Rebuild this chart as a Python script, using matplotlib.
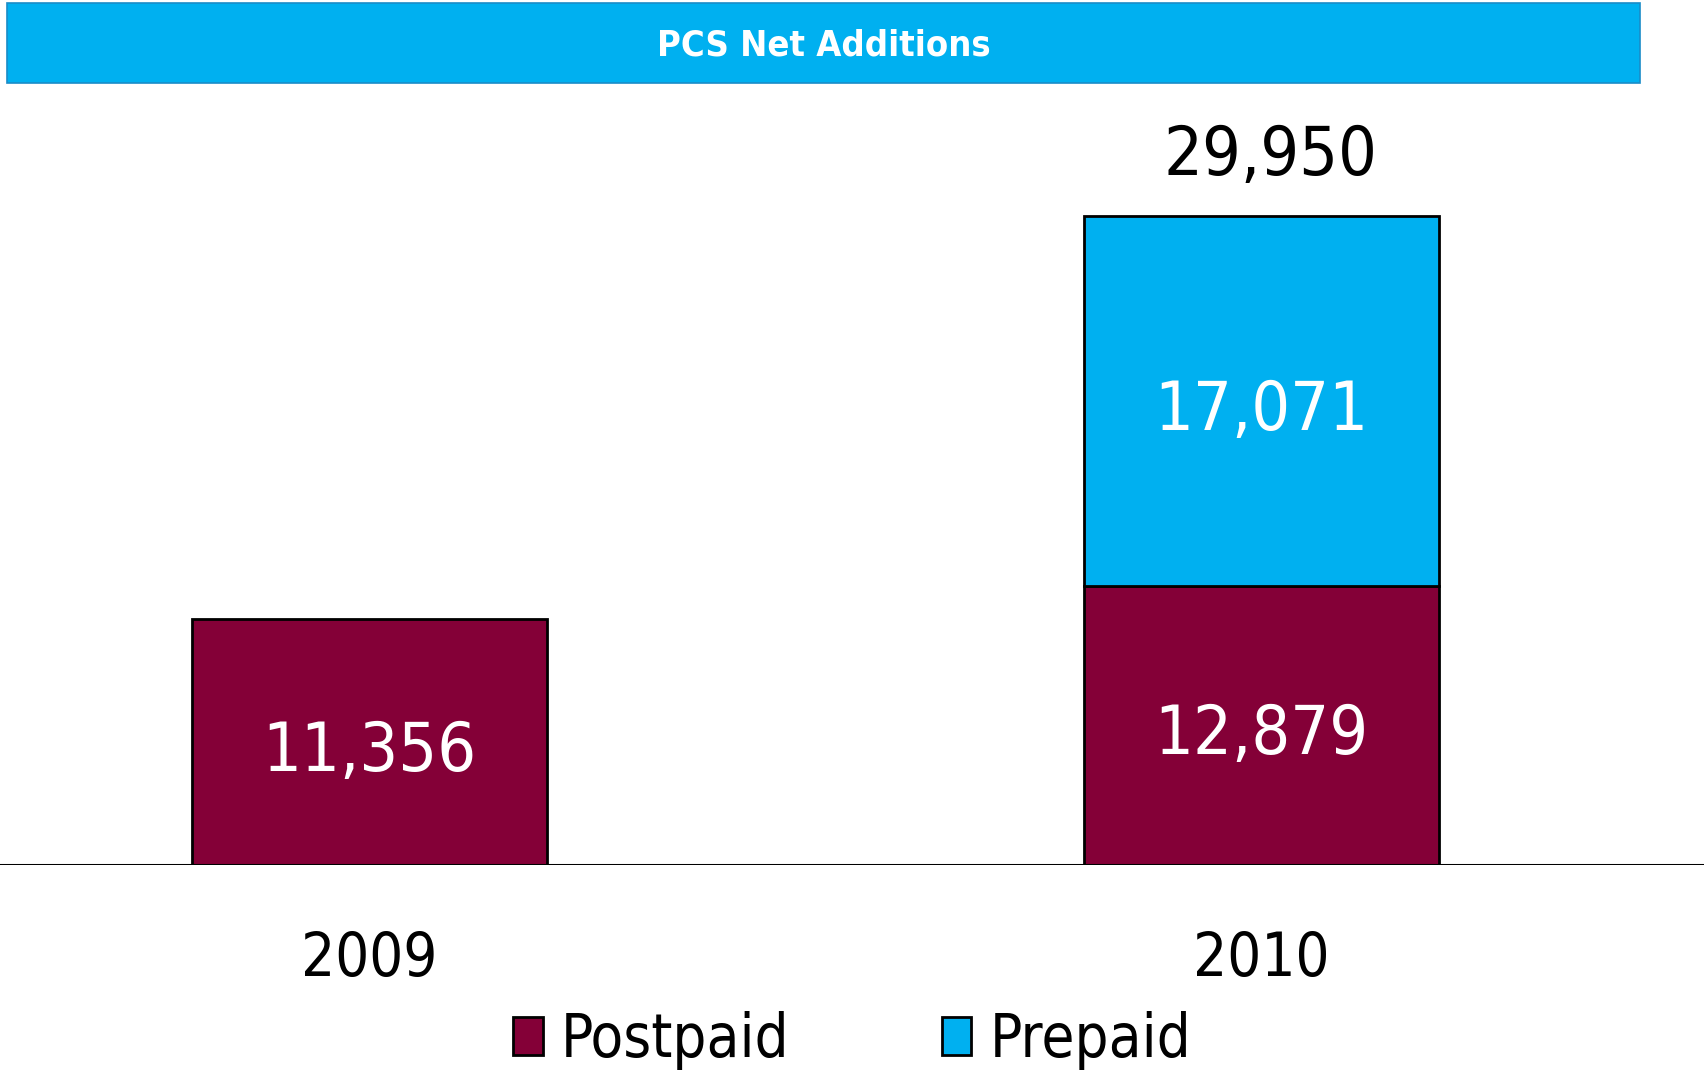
import matplotlib
matplotlib.use("Agg")
import matplotlib.pyplot as plt
from matplotlib import font_manager
from matplotlib.patches import Rectangle, Patch

years = ["2009", "2010"]
postpaid = [11356, 12879]
prepaid = [0, 17071]
totals = [11356, 29950]

maroon = "#840037"
cyan = "#00B0F0"

names = {f.name for f in font_manager.fontManager.ttflist}
if "Liberation Sans Narrow" in names:
    fam, stretch = "Liberation Sans Narrow", "normal"
else:
    fam, stretch = "DejaVu Sans", "condensed"
plt.rcParams["font.family"] = [fam, "DejaVu Sans"]
plt.rcParams["font.stretch"] = stretch

W, H = 1704, 1072
fig = plt.figure(figsize=(W / 100, H / 100), dpi=100)

# axes: baseline at y=865px, full width
ax = fig.add_axes([0, (H - 865) / H, 1, (865 - 100) / H])
ax.set_xlim(-0.4137, 1.4966)
ax.set_ylim(0, 35300)
ax.axis("off")

x = list(range(len(years)))
w = 0.398
ax.bar(x, postpaid, width=w, color=maroon, edgecolor="black", linewidth=2, zorder=2)
ax.bar(x[1:], prepaid[1:], bottom=postpaid[1:], width=w, color=cyan,
       edgecolor="black", linewidth=2, zorder=2)
ax.axhline(0, color="black", linewidth=2.2, zorder=3)

num_fs = 49
dy = -450  # labels sit slightly below segment centre
for i in x:
    ax.text(i, postpaid[i] / 2 + dy, f"{postpaid[i]:,}", color="white", fontsize=num_fs,
            ha="center", va="center", zorder=4)
    if prepaid[i] > 0:
        ax.text(i, postpaid[i] + prepaid[i] / 2 + dy, f"{prepaid[i]:,}", color="white",
                fontsize=num_fs, ha="center", va="center", zorder=4)
        ax.text(i + 0.01, totals[i] + 2750, f"{totals[i]:,}", color="black",
                fontsize=num_fs, ha="center", va="center")

# category labels
for i, yr in zip(x, years):
    ax.text(i, -4350, yr, fontsize=43, ha="center", va="center", clip_on=False)

# title bar
fig.patches.append(Rectangle((7 / W, (H - 83) / H), (1640 - 7) / W, 80 / H,
                             transform=fig.transFigure, facecolor=cyan,
                             edgecolor="#1a8cc8", linewidth=1.2))
fig.text(824 / W, (H - 46) / H, "PCS Net Additions", color="white", fontsize=26,
         fontweight="bold", ha="center", va="center")

handles = [Patch(facecolor=maroon, edgecolor="black", linewidth=2),
           Patch(facecolor=cyan, edgecolor="black", linewidth=2)]
fig.legend(handles, ["Postpaid", "Prepaid"], loc="center", ncol=2,
           bbox_to_anchor=(852 / W, (H - 1041) / H), frameon=False, fontsize=43,
           handlelength=0.5, handleheight=0.6, handletextpad=0.3,
           columnspacing=2.55, borderpad=0)

fig.savefig("out.png", dpi=100)
